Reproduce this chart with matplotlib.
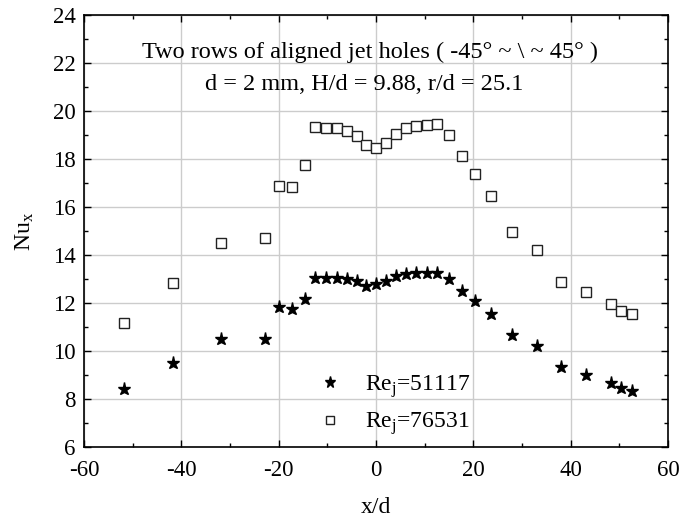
import matplotlib
matplotlib.use("Agg")
import matplotlib.pyplot as plt
from matplotlib.ticker import MultipleLocator

plt.rcParams['font.family'] = ['Liberation Serif', 'DejaVu Serif']
plt.rcParams['mathtext.fontset'] = 'custom'
plt.rcParams['mathtext.rm'] = 'Liberation Serif'
plt.rcParams['mathtext.it'] = 'Liberation Serif:italic'
plt.rcParams['axes.unicode_minus'] = False

x_d = [-51.8, -41.8, -31.8, -22.8, -19.9, -17.2, -14.65, -12.45, -10.2, -8.1,
       -6.0, -4.0, -2.0, 0.0, 2.1, 4.2, 6.2, 8.3, 10.5, 12.6,
       15.0, 17.7, 20.4, 23.6, 28.0, 33.1, 38.1, 43.1, 48.2, 50.3, 52.7]
nu_51117 = [8.40, 9.49, 10.51, 10.50, 11.82, 11.74, 12.18, 13.03, 13.03, 13.03,
            13.00, 12.93, 12.72, 12.78, 12.92, 13.14, 13.22, 13.25, 13.25, 13.25,
            13.01, 12.51, 12.07, 11.56, 10.68, 10.22, 9.32, 9.00, 8.65, 8.47, 8.32]
nu_76531 = [11.18, 12.83, 14.51, 14.72, 16.88, 16.83, 17.76, 19.35, 19.31, 19.28,
            19.18, 18.96, 18.60, 18.47, 18.68, 19.06, 19.29, 19.39, 19.42, 19.44,
            19.01, 18.14, 17.38, 16.47, 14.96, 14.22, 12.86, 12.46, 11.97, 11.68, 11.55]

fig = plt.figure(figsize=(6.83, 5.22), dpi=100)
ax = fig.add_axes([84/683, 1-447/522, (668-84)/683, (447-15)/522])

ax.plot(x_d, nu_51117, linestyle='none', marker='*', markersize=9.5,
        color='black', label=r'$\mathrm{Re}_\mathrm{j}$=51117')
ax.plot(x_d, nu_76531, linestyle='none', marker='s', markersize=7.2,
        markerfacecolor='white', markeredgecolor='#222222', markeredgewidth=1.0,
        label=r'$\mathrm{Re}_\mathrm{j}$=76531')

ax.set_xlim(-60, 60)
ax.set_ylim(6, 24)
ax.xaxis.set_major_locator(MultipleLocator(20))
ax.xaxis.set_minor_locator(MultipleLocator(10))
ax.yaxis.set_major_locator(MultipleLocator(2))
ax.yaxis.set_minor_locator(MultipleLocator(1))
ax.grid(True, which='major', color='#cccccc', linewidth=1.0)
ax.set_axisbelow(True)
ax.tick_params(which='both', direction='in', top=True, right=True,
               labelsize=16.5, width=1.0, color='black')
ax.tick_params(axis='x', which='major', pad=9)
ax.tick_params(axis='y', which='major', pad=6)
ax.tick_params(which='major', length=5)
ax.tick_params(which='minor', length=3)
for s in ax.spines.values():
    s.set_linewidth(1.2)

ax.set_xlabel('x/d', fontsize=17, labelpad=12)
ax.set_ylabel(r'$\mathrm{Nu}_\mathrm{x}$', fontsize=17, labelpad=12)

ax.text(0.49, 0.913, 'Two rows of aligned jet holes ( -45° ~ \\ ~ 45° )',
        transform=ax.transAxes, ha='center', va='center', fontsize=17.5)
ax.text(0.48, 0.840, 'd = 2 mm, H/d = 9.88, r/d = 25.1',
        transform=ax.transAxes, ha='center', va='center', fontsize=17.5)

leg = ax.legend(loc='lower left', bbox_to_anchor=(0.36, -0.027), frameon=False,
                fontsize=17, markerscale=0.85, handlelength=1.2, handletextpad=0.9,
                labelspacing=0.45)

fig.savefig('out.png', dpi=100)
